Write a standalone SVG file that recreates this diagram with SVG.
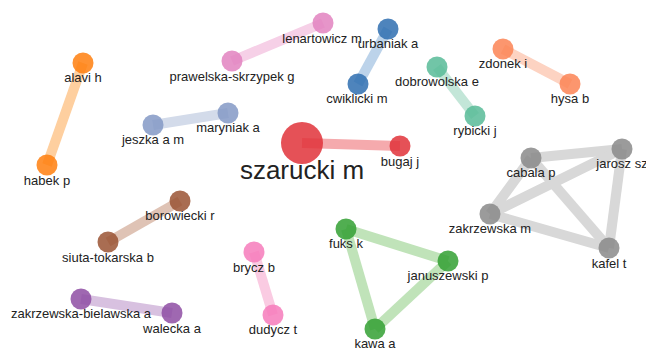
<svg xmlns="http://www.w3.org/2000/svg" width="646" height="348" viewBox="0 0 646 348">
<style>
  .e { stroke-width: 10; fill: none; stroke-linecap: butt; }
  .n { fill-opacity: 0.85; }
  text { font-family: "Liberation Sans", Arial, sans-serif; font-size: 13px; fill: #222; text-anchor: middle; }
  .big { font-size: 26px; }
</style>
<rect width="646" height="348" fill="#ffffff"/>
<g id="edges">
  <line class="e" x1="83" y1="63" x2="47" y2="165" stroke="#fecf9f"/>
  <line class="e" x1="232" y1="61" x2="323" y2="23" stroke="#f6d0e7"/>
  <line class="e" x1="153" y1="125" x2="228" y2="113" stroke="#d3dbea"/>
  <line class="e" x1="388" y1="29" x2="358" y2="84" stroke="#bcd3ea"/>
  <line class="e" x1="437" y1="67" x2="475" y2="116" stroke="#c3e6d8"/>
  <line class="e" x1="503" y1="49" x2="570" y2="84" stroke="#fdd3c2"/>
  <line class="e" x1="302" y1="143" x2="400" y2="146" stroke="#f5aaad"/>
  <line class="e" x1="180" y1="201" x2="108" y2="242" stroke="#dfc3b5"/>
  <line class="e" x1="254" y1="252" x2="273" y2="315" stroke="#facbe2"/>
  <line class="e" x1="81" y1="299" x2="172" y2="313" stroke="#d8c1e0"/>
  <line class="e" x1="346" y1="229" x2="448" y2="261" stroke="#c0e3b9"/>
  <line class="e" x1="346" y1="229" x2="375" y2="329" stroke="#c0e3b9"/>
  <line class="e" x1="448" y1="261" x2="375" y2="329" stroke="#c0e3b9"/>
  <line class="e" x1="531" y1="158" x2="622" y2="149" stroke="#d8d8d8"/>
  <line class="e" x1="531" y1="158" x2="490" y2="214" stroke="#d8d8d8"/>
  <line class="e" x1="531" y1="158" x2="609" y2="248" stroke="#d8d8d8"/>
  <line class="e" x1="622" y1="149" x2="490" y2="214" stroke="#d8d8d8"/>
  <line class="e" x1="622" y1="149" x2="609" y2="248" stroke="#d8d8d8"/>
  <line class="e" x1="490" y1="214" x2="609" y2="248" stroke="#d8d8d8"/>
</g>
<g id="alavi-h"><circle class="n" cx="83" cy="63" r="10.5" fill="#ff7f0e"/><text x="83" y="82">alavi h</text></g>
<g id="habek-p"><circle class="n" cx="47" cy="165" r="10.5" fill="#ff7f0e"/><text x="47" y="185">habek p</text></g>
<g id="prawelska-skrzypek-g"><circle class="n" cx="232" cy="61" r="10.5" fill="#e283bf"/><text x="232" y="81">prawelska-skrzypek g</text></g>
<g id="lenartowicz-m"><circle class="n" cx="323" cy="23" r="10.5" fill="#e283bf"/><text x="322" y="43">lenartowicz m</text></g>
<g id="jeszka-a-m"><circle class="n" cx="153" cy="125" r="10.5" fill="#8499c6"/><text x="153" y="144">jeszka a m</text></g>
<g id="maryniak-a"><circle class="n" cx="228" cy="113" r="10.5" fill="#8499c6"/><text x="228" y="132">maryniak a</text></g>
<g id="urbaniak-a"><circle class="n" cx="388" cy="29" r="10.5" fill="#2f6fb0"/><text x="388" y="48">urbaniak a</text></g>
<g id="cwiklicki-m"><circle class="n" cx="358" cy="84" r="10.5" fill="#2f6fb0"/><text x="357" y="103">cwiklicki m</text></g>
<g id="dobrowolska-e"><circle class="n" cx="437" cy="67" r="10.5" fill="#58bb98"/><text x="437" y="86">dobrowolska e</text></g>
<g id="rybicki-j"><circle class="n" cx="475" cy="116" r="10.5" fill="#58bb98"/><text x="475" y="135">rybicki j</text></g>
<g id="zdonek-i"><circle class="n" cx="503" cy="49" r="10.5" fill="#fc8455"/><text x="503" y="68">zdonek i</text></g>
<g id="hysa-b"><circle class="n" cx="570" cy="84" r="10.5" fill="#fc8455"/><text x="570" y="103">hysa b</text></g>
<g id="szarucki-m"><circle class="n" cx="302" cy="143" r="21" fill="#e0333a"/><text class="big" x="302" y="179">szarucki m</text></g>
<g id="bugaj-j"><circle class="n" cx="400" cy="146" r="10.5" fill="#e0333a"/><text x="400" y="166">bugaj j</text></g>
<g id="cabala-p"><circle class="n" cx="531" cy="158" r="10.5" fill="#8a8a8a"/><text x="531" y="177">cabala p</text></g>
<g id="jarosz-sz"><circle class="n" cx="622" cy="149" r="10.5" fill="#8a8a8a"/><text x="622" y="168">jarosz sz</text></g>
<g id="zakrzewska-m"><circle class="n" cx="490" cy="214" r="10.5" fill="#8a8a8a"/><text x="490" y="233">zakrzewska m</text></g>
<g id="kafel-t"><circle class="n" cx="609" cy="248" r="10.5" fill="#8a8a8a"/><text x="609" y="268">kafel t</text></g>
<g id="fuks-k"><circle class="n" cx="346" cy="229" r="10.5" fill="#32a032"/><text x="346" y="248">fuks k</text></g>
<g id="januszewski-p"><circle class="n" cx="448" cy="261" r="10.5" fill="#32a032"/><text x="448" y="280">januszewski p</text></g>
<g id="kawa-a"><circle class="n" cx="375" cy="329" r="10.5" fill="#32a032"/><text x="375" y="348">kawa a</text></g>
<g id="borowiecki-r"><circle class="n" cx="180" cy="201" r="10.5" fill="#9a5334"/><text x="180" y="220">borowiecki r</text></g>
<g id="siuta-tokarska-b"><circle class="n" cx="108" cy="242" r="10.5" fill="#9a5334"/><text x="108" y="262">siuta-tokarska b</text></g>
<g id="brycz-b"><circle class="n" cx="254" cy="252" r="10.5" fill="#f67bbb"/><text x="254" y="272">brycz b</text></g>
<g id="dudycz-t"><circle class="n" cx="273" cy="315" r="10.5" fill="#f67bbb"/><text x="273" y="334">dudycz t</text></g>
<g id="zakrzewska-bielawska-a"><circle class="n" cx="81" cy="299" r="10.5" fill="#8e4ea3"/><text x="81" y="318">zakrzewska-bielawska a</text></g>
<g id="walecka-a"><circle class="n" cx="172" cy="313" r="10.5" fill="#8e4ea3"/><text x="172" y="333">walecka a</text></g>
</svg>
